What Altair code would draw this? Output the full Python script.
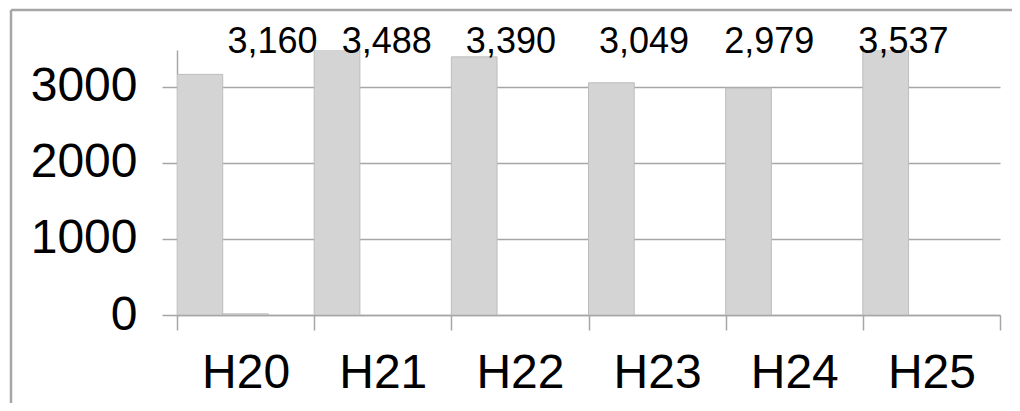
import altair as alt
import pandas as pd

categories = ["H20", "H21", "H22", "H23", "H24", "H25"]
series_main = [3160, 3488, 3390, 3049, 2979, 3537]
series_second = [15, 0, 0, 0, 0, 0]
y_ticks = [0, 1000, 2000, 3000]

rows = []
for c, v in zip(categories, series_main):
    rows.append({"cat": c, "series": "A", "value": v})
for c, v in zip(categories, series_second):
    rows.append({"cat": c, "series": "B", "value": v})
df = pd.DataFrame(rows)
df_main = pd.DataFrame({"cat": categories, "value": series_main})

FONT = "Liberation Sans"
GRAY = "#a6a6a6"
W, H = 823, 265

x_enc = alt.X(
    "cat:N",
    sort=categories,
    scale=alt.Scale(paddingInner=0, paddingOuter=0),
    axis=alt.Axis(
        title=None, labelAngle=0, labelFontSize=48, labelFont=FONT, labelColor="black",
        tickBand="extent", tickSize=15, tickColor=GRAY, tickWidth=1.5,
        domainColor=GRAY, domainWidth=1.5, labelPadding=19, grid=False,
    ),
)

bars = alt.Chart(df).transform_filter("datum.value > 0").mark_bar(
    clip=True, fill="#d4d4d4", stroke="#bdbdbd", strokeWidth=1
).encode(
    x=x_enc,
    xOffset=alt.XOffset(
        "series:N",
        scale=alt.Scale(domain=["A", "B"], paddingInner=0, paddingOuter=0.5, align=0),
    ),
    y=alt.Y(
        "value:Q",
        scale=alt.Scale(domain=[0, 3480], nice=False, zero=True),
        axis=alt.Axis(
            title=None, values=y_ticks, labelFontSize=48, labelFont=FONT, labelColor="black",
            tickSize=15, tickColor=GRAY, tickWidth=1.5, domainColor=GRAY, domainWidth=1.5,
            grid=True, gridColor=GRAY, gridWidth=1.5, labelPadding=25, format="d",
        ),
    ),
)

label_dx = {"H20": 27, "H21": 4, "H22": -9, "H23": -13, "H24": -25, "H25": -28}
label_layers = []
for c in categories:
    label_layers.append(
        alt.Chart(df_main).transform_filter(alt.datum.cat == c).mark_text(
            font=FONT, fontSize=36, color="black", baseline="alphabetic", dx=label_dx[c]
        ).encode(
            x=alt.X("cat:N", sort=categories),
            y=alt.value(3),
            text=alt.Text("value:Q", format=","),
        )
    )

frame_data = alt.Data(values=[{"k": 1}])
frame_top = alt.Chart(frame_data).mark_rule(color=GRAY, strokeWidth=2.5).encode(
    x=alt.value(-166), x2=alt.value(W + 12), y=alt.value(-40)
)
frame_left = alt.Chart(frame_data).mark_rule(color=GRAY, strokeWidth=2.5).encode(
    x=alt.value(-166), y=alt.value(-40), y2=alt.value(H + 88)
)

chart = alt.layer(frame_top, frame_left, bars, *label_layers).properties(
    width=W, height=H,
    autosize=alt.AutoSizeParams(type="none"),
    padding={"left": 169, "top": 42, "right": 12, "bottom": 88},
    background="white",
).configure_view(strokeWidth=0)

chart.save("out.html", embed_options={"renderer": "svg", "actions": False})
